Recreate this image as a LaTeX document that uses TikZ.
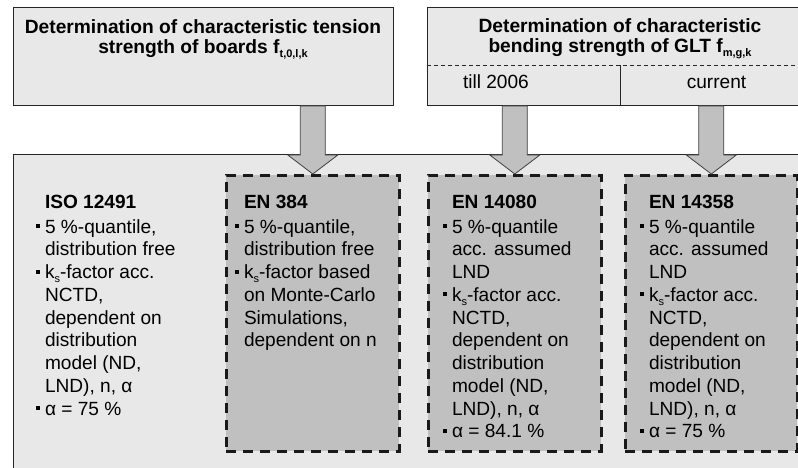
\documentclass[tikz,border=0pt]{standalone}
\usepackage{fontspec}
\setmainfont{Liberation Sans}
\usetikzlibrary{calc}
\definecolor{boxfill}{HTML}{E8E8E8}
\definecolor{dashfill}{HTML}{C0C0C0}
\definecolor{arrowfill}{HTML}{C0C0C0}
\definecolor{edge}{HTML}{262626}
\definecolor{arrowedge}{HTML}{404040}
\newcommand{\lowsub}[1]{\raisebox{-4pt}{\fontsize{11}{11}\selectfont #1}}
\newcommand{\bul}{\makebox[9pt][l]{\raisebox{5pt}{\rule{4pt}{4pt}}}}
\newcommand{\ind}{\hspace*{9pt}}
\newcommand{\bodyblock}[1]{\vtop{\hsize=190pt\parindent=0pt\raggedright
  \fontsize{19.1}{22.7}\selectfont\baselineskip=22.75pt\lineskiplimit=-100pt\lineskip=0pt #1}}
\newcommand{\titleblock}[2]{\vtop{\hsize=#1\parindent=0pt\centering
  \fontsize{19.2}{20}\selectfont\bfseries\baselineskip=20pt\lineskiplimit=-100pt\lineskip=0pt #2}}
\newcommand{\blkarrow}[2]{%
  \draw[blockarrow] ($(#1)+(-12.5,0)$) -- ($(#2)+(-12.5,-19)$) -- ($(#2)+(-25,-19)$)
    -- (#2) -- ($(#2)+(25,-19)$) -- ($(#2)+(12.5,-19)$) -- ($(#1)+(12.5,0)$) -- cycle;}
\tikzset{
  solidbox/.style={draw=edge, line width=1pt, fill=boxfill, rectangle, inner sep=0pt},
  dashbox/.style={draw=black!90, line width=2.6pt, dash pattern=on 10pt off 7pt, fill=dashfill, rectangle, inner sep=0pt},
  blockarrow/.style={draw=arrowedge, line width=0.8pt, fill=arrowfill, line join=miter},
  txt/.style={inner sep=0pt, outer sep=0pt, text=black},
  thindash/.style={draw=edge, line width=0.8pt, dash pattern=on 4pt off 3pt},
  divider/.style={draw=edge, line width=1pt}
}
\begin{document}
\begin{tikzpicture}[x=1pt,y=-1pt]
\useasboundingbox (0,0) rectangle (798,468);
\clip (0,0) rectangle (798,468);
% boxes
\node[solidbox, minimum width=820pt, minimum height=330pt, anchor=north west] (outer) at (13,154) {};
\node[solidbox, minimum width=380pt, minimum height=98pt, anchor=north west] (tlbox) at (13,7) {};
\node[solidbox, minimum width=386pt, minimum height=98pt, anchor=north west] (trbox) at (427,7) {};
\node[dashbox, minimum width=173pt, minimum height=276pt, anchor=north west] (en384) at (225,174) {};
\node[dashbox, minimum width=173pt, minimum height=276pt, anchor=north west] (en14080) at (427,174) {};
\node[dashbox, minimum width=172pt, minimum height=276pt, anchor=north west] (en14358) at (624,174) {};
% separators in the right title box
\coordinate (sepL) at (427,65);
\coordinate (sepR) at (813,65);
\coordinate (divT) at (620,65);
\draw[thindash] (sepL) -- (sepR);
\draw[divider] (divT) -- (divT |- trbox.south);
% titles
\node[txt, anchor=base west] (tltitle) at (13,34) {\titleblock{380pt}{Determination of characteristic tension\\strength of boards f\lowsub{t,0,l,k}}};
\node[txt, anchor=base west] (trtitle) at (427,33) {\titleblock{386pt}{Determination of characteristic\\bending strength of GLT f\lowsub{m,g,k}}};
\node[txt, anchor=base west, font=\fontsize{19.1}{22}\selectfont] (till) at (463,89) {till 2006};
\node[txt, anchor=base, font=\fontsize{19.1}{22}\selectfont] (current) at (716.5,89) {current};
% arrows
\coordinate (a1) at (en384.north |- tlbox.south);
\coordinate (a2) at (en14080.north |- trbox.south);
\coordinate (a3) at (en14358.north |- trbox.south);
\blkarrow{a1}{en384.north}
\blkarrow{a2}{en14080.north}
\blkarrow{a3}{en14358.north}
% body texts
\node[txt, anchor=base west] (isotext) at (36,208) {\bodyblock{%
\ind\textbf{ISO 12491}\\[2.3pt]
\bul 5 \%-quantile,\\
\ind distribution free\\
\bul k\lowsub{s}-factor acc.\\
\ind NCTD,\\
\ind dependent on\\
\ind distribution\\
\ind model (ND,\\
\ind LND), n, α\\
\bul α = 75 \%}};
\node[txt, anchor=base west] (en384text) at (235,208) {\bodyblock{%
\ind\textbf{EN 384}\\[2.3pt]
\bul 5 \%-quantile,\\
\ind distribution free\\
\bul k\lowsub{s}-factor based\\
\ind on Monte-Carlo\\
\ind Simulations,\\
\ind dependent on n}};
\node[txt, anchor=base west] (en14080text) at (443,208) {\bodyblock{%
\ind\textbf{EN 14080}\\[2.3pt]
\bul 5 \%-quantile\\
\ind acc. assumed\\
\ind LND\\
\bul k\lowsub{s}-factor acc.\\
\ind NCTD,\\
\ind dependent on\\
\ind distribution\\
\ind model (ND,\\
\ind LND), n, α\\
\bul α = 84.1 \%}};
\node[txt, anchor=base west] (en14358text) at (640,208) {\bodyblock{%
\ind\textbf{EN 14358}\\[2.3pt]
\bul 5 \%-quantile\\
\ind acc. assumed\\
\ind LND\\
\bul k\lowsub{s}-factor acc.\\
\ind NCTD,\\
\ind dependent on\\
\ind distribution\\
\ind model (ND,\\
\ind LND), n, α\\
\bul α = 75 \%}};
\end{tikzpicture}
\end{document}
